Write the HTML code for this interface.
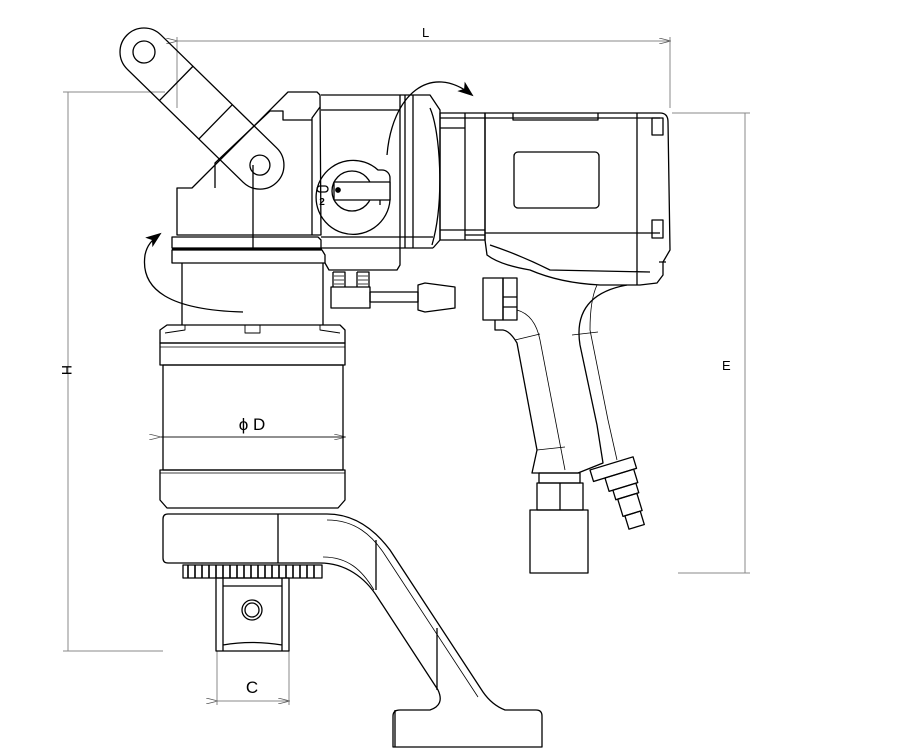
<!DOCTYPE html>
<html><head><meta charset="utf-8"><style>
html,body{margin:0;padding:0;background:#fff;}
svg{display:block;}
text{font-family:"Liberation Sans",sans-serif;}
</style></head><body>
<svg width="919" height="749" viewBox="0 0 919 749" xmlns="http://www.w3.org/2000/svg">
<defs>
<marker id="dh" markerWidth="12" markerHeight="6" refX="11" refY="3" orient="auto" markerUnits="userSpaceOnUse"><path d="M0,0 L12,3 L0,6" fill="none" stroke="#555" stroke-width="0.8"/></marker>
<marker id="big" markerWidth="16" markerHeight="12" refX="14" refY="6" orient="auto" markerUnits="userSpaceOnUse"><path d="M0,0 L16,6 L0,12 L4,6 z" fill="#000"/></marker>
</defs>

<g stroke="#888" stroke-width="1" fill="none">
<line x1="177" y1="41" x2="670" y2="41" marker-start="url(#dh)" marker-end="url(#dh)"/>
<line x1="177" y1="37" x2="177" y2="108"/>
<line x1="670" y1="37" x2="670" y2="108"/>
<line x1="68" y1="92" x2="68" y2="651"/>
<line x1="63" y1="92" x2="165" y2="92"/>
<line x1="63" y1="651" x2="163" y2="651"/>
<line x1="745" y1="113" x2="745" y2="573"/>
<line x1="672" y1="113" x2="750" y2="113"/>
<line x1="678" y1="573" x2="750" y2="573"/>
<line x1="217" y1="701" x2="289" y2="701" marker-start="url(#dh)" marker-end="url(#dh)"/>
<line x1="217" y1="651" x2="217" y2="705"/>
<line x1="289" y1="651" x2="289" y2="705"/>
</g>
<line x1="160" y1="437" x2="345" y2="437" stroke="#222" stroke-width="1" marker-start="url(#dh)" marker-end="url(#dh)"/>
<text x="422" y="37" font-size="13">L</text>
<text x="722" y="370" font-size="13">E</text>
<text x="62" y="370" font-size="14" font-family="Liberation Serif" transform="rotate(90 62 370)" text-anchor="middle">H</text>
<text x="252" y="430" font-size="17" font-family="Liberation Serif" text-anchor="middle">ϕ D</text>
<text x="252" y="693" font-size="17" font-family="Liberation Serif" text-anchor="middle">C</text>

<g stroke="#000" stroke-width="1.3" fill="none" stroke-linejoin="round">
<!-- head block -->
<path d="M177,235 L177,188 L192,188 L288,92 L317,92 L320,95 L321,235 z"/>
<path d="M320,107 L312,118 L312,235"/>
<path d="M215,188 L215,163 L270,111 L283,111 L283,120 L312,120 M253,165 L253,248"/>
<!-- handle arm -->
<g transform="translate(144,52) rotate(44.3)">
<path d="M0,-24 L162,-24 A24,24 0 0 1 162,24 L0,24 A24,24 0 0 1 0,-24 z"/>
<circle cx="0" cy="0" r="11"/>
<circle cx="162" cy="0" r="10"/>
<line x1="45" y1="-24" x2="45" y2="24"/>
<line x1="100" y1="-24" x2="100" y2="24"/>
</g>
<path d="M172,237 L318,237 L321,240 L321,248 L172,248 z"/>
<path d="M172,250 L322,250 L325,255 L325,263 L172,263 z"/>
<line x1="172" y1="249" x2="322" y2="249" stroke-width="2.5"/>
<path d="M182,263 L182,325 M323,263 L323,325"/>
<!-- gearbox body -->
<path d="M321,95 L400,95 L400,265 L397,270 L329,270 L325,263"/>
<path d="M321,110 L400,110 M321,237 L433,237 M321,248 L433,248"/>
<path d="M400,95 L430,95 L440,110 L440,240 L433,248 M413,95 L413,248 M405,95 L405,248"/>
<path d="M430,108 C440,130 445,200 432,245"/>
<!-- selector -->
<path d="M378,170 A37,37 0 1 0 390,200 L390,178 A8,8 0 0 0 382,170 z"/>
<circle cx="352" cy="191" r="20"/>
<rect x="334" y="182" width="56" height="18" fill="#fff"/>
<circle cx="338" cy="190" r="2.2" fill="#000"/>
<line x1="380" y1="200" x2="380" y2="205"/>
<text x="322" y="205" font-size="10" font-weight="bold" stroke="none" fill="#000" text-anchor="middle">2</text>
<rect x="317" y="186" width="11" height="6" rx="3"/>
<!-- screw knob -->
<path d="M333,272 L345,272 L345,287 M333,272 L333,287 M357,272 L369,272 L369,287 M357,272 L357,287"/>
<path d="M334,276 h10 M334,280 h10 M334,284 h10 M358,276 h10 M358,280 h10 M358,284 h10" stroke-width="0.8"/>
<rect x="331" y="287" width="39" height="21"/>
<rect x="370" y="292" width="48" height="10"/>
<path d="M418,285 L425,283 L455,287 L455,308 L425,312 L418,310 z"/>
<!-- curved arrows -->
<path d="M387,155 C392,95 430,62 472,95" marker-end="url(#big)"/>
<path d="M243,312 C170,310 140,290 145,255 C147,245 152,240 160,234" marker-end="url(#big)"/>
<!-- motor rings -->
<path d="M440,113 L485,113 L485,240 L440,240 z M440,118 L465,118 M465,113 L465,240 M440,230 L485,230 M440,128 L465,128 M465,118 L485,118 M465,235 L485,235"/>
<!-- housing -->
<path d="M485,113 L660,113 Q668,113 668,122 L670,250 L663,262 L663,275 L657,283 L640,285 L600,285 Q560,283 530,270 Q500,265 487,255 L485,240 z"/>
<path d="M513,113 L513,120 L598,120 L598,113 M485,233 L660,233 M490,245 Q520,255 550,270 L650,272 M637,113 L637,285 M485,118 L660,118"/>
<rect x="514" y="152" width="85" height="56" rx="4"/>
<path d="M652,118 L663,118 L663,135 L652,135 z M652,220 L663,220 L663,238 L652,238 z M659,262 L666,262"/>
<!-- trigger -->
<rect x="483" y="278" width="20" height="42"/>
<rect x="503" y="278" width="14" height="42"/>
<path d="M503,297 L517,297 M503,307 L517,307"/>
<!-- grip -->
<path d="M495,320 L495,330 L503,330 Q510,331 517,343 L537,450 L532,473 L578,473 L603,463 L597,425 L580,345 Q572,295 627,285"/>
<path d="M517,310 Q535,315 540,340 L565,470 M597,285 Q590,300 590,330 L608,420 L617,460" stroke-width="0.8"/>
<path d="M515,340 L540,334 M572,335 L598,332 M537,450 L565,447" stroke-width="0.8"/>
<!-- hose fittings -->
<rect x="539" y="473" width="41" height="10"/>
<rect x="537" y="483" width="46" height="27"/>
<line x1="560" y1="483" x2="560" y2="510"/>
<rect x="530" y="510" width="58" height="63"/>
<g transform="translate(590,470) rotate(-17)">
<rect x="0" y="0" width="45" height="12"/>
<rect x="12" y="12" width="30" height="14"/>
<rect x="16" y="26" width="24" height="10"/>
<rect x="18" y="36" width="20" height="18"/>
<rect x="20" y="54" width="16" height="14"/>
</g>
<!-- main cylinder -->
<path d="M160,343 L160,330 L167,325 L340,325 L345,330 L345,343 z"/>
<path d="M165,333 L185,330 L185,325 M340,333 L320,330 L320,325 M245,325 L245,333 L260,333 L260,325" stroke-width="0.9"/>
<rect x="160" y="343" width="185" height="22"/>
<line x1="160" y1="347" x2="345" y2="347" stroke-width="0.8"/>
<rect x="163" y="365" width="180" height="105"/>
<path d="M160,470 L345,470 L345,500 L338,508 L167,508 L160,500 z"/>
<line x1="160" y1="473" x2="345" y2="473" stroke-width="0.8"/>
<!-- reaction arm -->
<path d="M168,514 L327,514 C355,514 375,530 390,550 L483,692 Q492,705 505,710 L536,710 Q542,710 542,716 L542,747 L393,747 L393,716 Q393,710 400,710 L430,710 Q445,705 438,690 L378,598 C365,577 345,563 320,563 L168,563 Q163,563 163,558 L163,519 Q163,514 168,514 z"/>
<path d="M278,514 L278,563 M376,540 L376,590 M437,628 L437,690 M395,710 L395,747"/>
<path d="M327,520 C355,520 372,535 385,555 L478,697 M323,557 C348,557 362,570 374,590" stroke-width="0.8"/>
<!-- gear teeth -->
<rect x="183" y="565" width="139" height="13"/>
<path d="M188,565 v13 M195,565 v13 M202,565 v13 M209,565 v13 M216,565 v13 M223,565 v13 M230,565 v13 M237,565 v13 M244,565 v13 M251,565 v13 M258,565 v13 M265,565 v13 M272,565 v13 M279,565 v13 M286,565 v13 M293,565 v13 M300,565 v13 M307,565 v13 M314,565 v13" stroke-width="1.6"/>
<!-- square drive -->
<rect x="216" y="578" width="73" height="73"/>
<path d="M223,578 L223,651 M282,578 L282,651 M223,586 L282,586 M223,645 Q252,640 282,645"/>
<circle cx="252" cy="610" r="10"/>
<circle cx="252" cy="610" r="7"/>
</g>
</svg>
</body></html>
